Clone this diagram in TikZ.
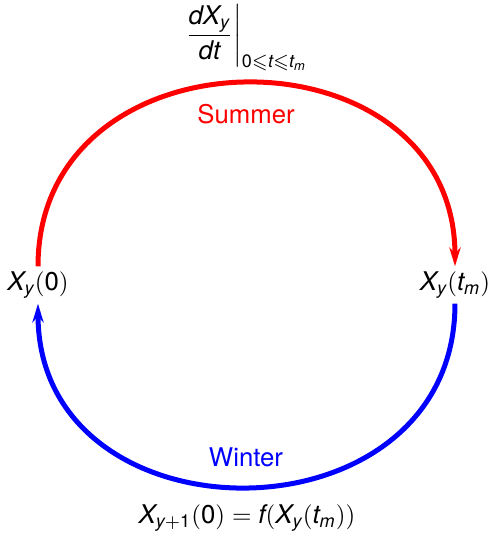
\documentclass[tikz,border=0pt]{standalone}
\usepackage{amssymb}
\usepackage{mathspec}
\setmainfont{TeX Gyre Heros}
\setmathsfont(Digits,Latin){TeX Gyre Heros}
\usetikzlibrary{arrows.meta}

\tikzset{
  season/.style={line width=2pt, -{Stealth[length=7.5pt,width=4.5pt]}},
  state/.style={inner sep=2pt}
}

\begin{document}
\begin{tikzpicture}[x=0.4pt,y=0.4pt,font=\fontsize{10.3}{12}\selectfont]
\useasboundingbox (0,0) rectangle (492,534);

\node[state] (x0)  at (38,249)  {$X_y(0)$};
\node[state] (xtm) at (455,249) {$X_y(t_m)$};

\draw[season,red]  (x0.north) to[out=90,in=90,looseness=1.5] (xtm.north);
\draw[season,blue] (xtm.south) to[out=-90,in=-90,looseness=1.5] (x0.south);

\node[red]  (summer) at (246,420) {Summer};
\node[blue] (winter) at (246,77)  {Winter};

\node (rate) at (245,496) {$\displaystyle\left.\frac{dX_y}{dt}\right|_{0\leqslant t\leqslant t_m}$};
\node (reset) at (247,16) {$X_{y+1}(0)=f(X_y(t_m))$};
\end{tikzpicture}
\end{document}
